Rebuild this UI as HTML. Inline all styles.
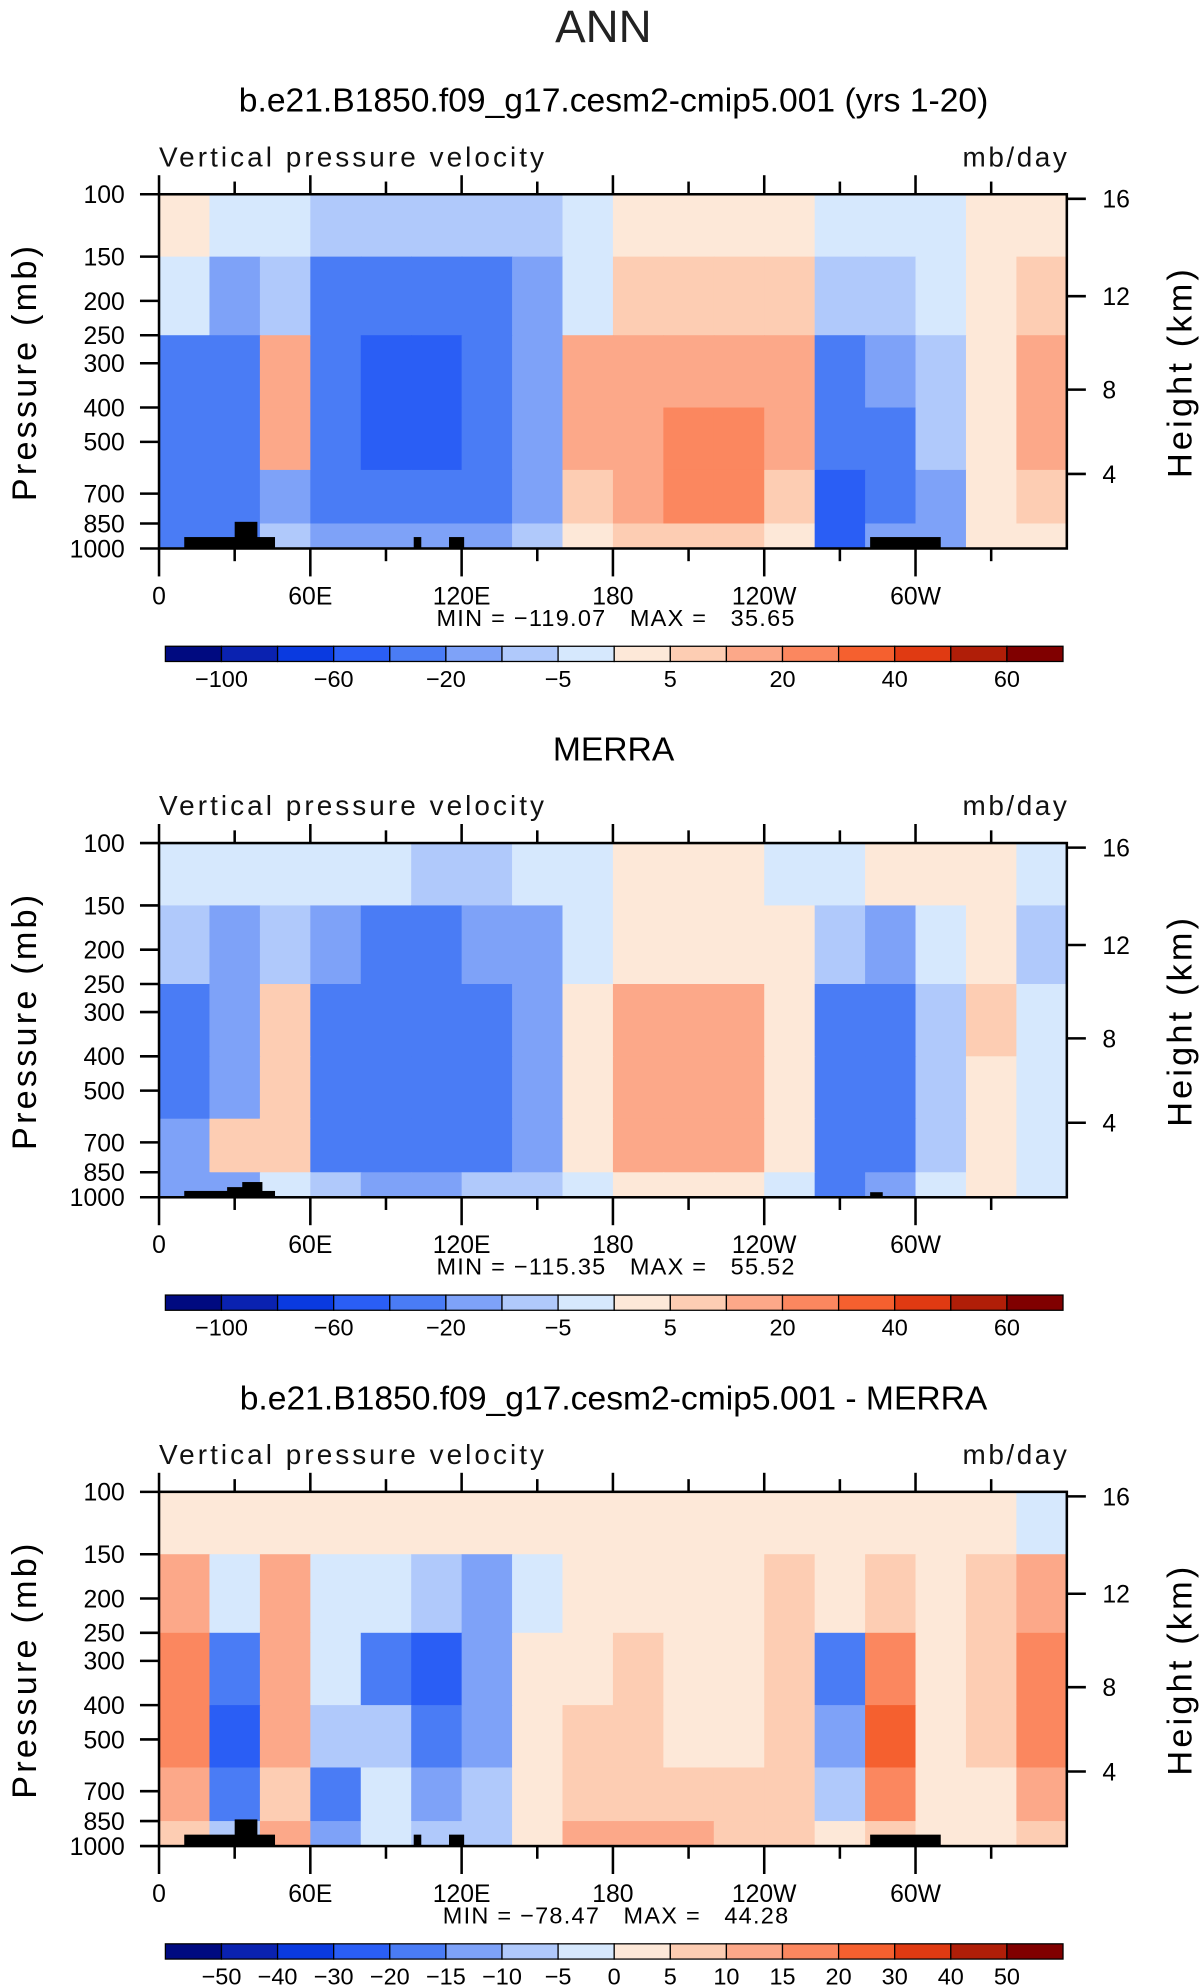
<!DOCTYPE html>
<html><head><meta charset="utf-8">
<style>
html,body{margin:0;padding:0;background:#fff;}
svg{display:block;font-family:"Liberation Sans",sans-serif;}
</style></head>
<body>
<svg id="fig" width="1203" height="1987" viewBox="0 0 947 1565" xmlns="http://www.w3.org/2000/svg">
<text x="475" y="33" font-size="36" font-weight="300" text-anchor="middle" fill="#222">ANN</text>
</svg>
<script>
// ===== data =====
const lonEdges = [0,20,40,60,80,100,120,140,160,180,200,220,240,260,280,300,320,340,360];
const presEdges = [100,150,250,400,600,850,1000];
const levelsAbs = [-100,-80,-60,-40,-20,-10,-5,0,5,10,20,30,40,50,60];
const levelsDiff = [-50,-40,-30,-20,-15,-10,-5,0,5,10,15,20,30,40,50];
const labelsAbs = ["-100","-60","-20","-5","5","20","40","60"];
const labelsAbsIdx = [0,2,4,6,8,10,12,14];
const labelsDiff = ["-50","-40","-30","-20","-15","-10","-5","0","5","10","15","20","30","40","50"];
const pTicks = [100,150,200,250,300,400,500,700,850,1000];
const hTicks = [4,8,12,16];
const hTickP = [616,356,194,103];
const xTickLabels = ["0","60E","120E","180","120W","60W"];
const xTickLons = [0,60,120,180,240,300];

const model = [
 [3,-3,-3,-8,-8,-8,-8,-8,-3,3,3,3,3,-3,-3,-3,3,3],
 [-3,-15,-8,-25,-30,-30,-30,-15,-3,8,8,8,8,-8,-8,-3,3,8],
 [-25,-35,12,-30,-50,-50,-40,-15,12,15,15,15,15,-40,-20,-8,3,15],
 [-30,-35,15,-30,-45,-50,-40,-15,12,15,25,25,15,-40,-25,-8,3,15],
 [-30,-40,-15,-25,-30,-40,-30,-15,8,15,25,25,8,-50,-30,-12,3,8],
 [-25,-40,-8,-15,-20,-20,-15,-8,3,8,8,8,3,-50,-20,-12,3,3]];
const merra = [
 [-3,-3,-3,-3,-3,-8,-8,-3,-3,3,3,3,-3,-3,3,3,3,-3],
 [-8,-15,-8,-15,-25,-25,-20,-15,-3,3,3,3,3,-8,-15,-3,3,-8],
 [-25,-15,5,-30,-30,-30,-30,-15,3,12,12,12,3,-30,-30,-8,8,-5],
 [-25,-15,8,-30,-30,-30,-30,-15,3,15,15,15,3,-35,-30,-8,3,-3],
 [-20,8,8,-25,-30,-30,-30,-15,3,12,12,12,3,-40,-30,-8,3,-3],
 [-20,-15,-3,-8,-15,-20,-8,-8,-3,3,3,3,-3,-35,-15,-5,3,-3]];
const diff = [
 [3,3,3,3,3,3,3,3,3,3,3,3,3,3,3,3,3,-3],
 [12,-3,12,-3,-3,-8,-15,-3,3,3,3,3,8,3,8,3,8,12],
 [15,-20,12,-3,-20,-25,-15,3,3,8,3,3,8,-20,15,3,8,15],
 [15,-25,12,-8,-10,-20,-15,3,8,8,3,3,8,-15,20,3,8,15],
 [12,-20,8,-20,-3,-12,-8,3,8,8,8,8,8,-8,15,3,3,12],
 [8,-10,12,-15,-3,-8,-8,3,12,12,12,8,8,3,8,3,3,8]];
const colors = ["#000a80","#0a22b0","#0a3ae0","#2a5ef5","#4a7cf5","#7ea2f8","#b0c9fb","#d6e8fd",
                "#fde8d8","#fdcdb3","#fca889","#fb875f","#f5602f","#e03a12","#b01e08","#800000"];
const panels = [
 {title:"b.e21.B1850.f09_g17.cesm2-cmip5.001 (yrs 1-20)", data:model, lev:levelsAbs, minmax:"MIN = \u2212119.07   MAX =   35.65", terr:"full", diff:false},
 {title:"MERRA", data:merra, lev:levelsAbs, minmax:"MIN = \u2212115.35   MAX =   55.52", terr:"small", diff:false},
 {title:"b.e21.B1850.f09_g17.cesm2-cmip5.001 - MERRA", data:diff, lev:levelsDiff, minmax:"MIN = \u221278.47   MAX =   44.28", terr:"full", diff:true}];
// ===== drawing =====
const NS="http://www.w3.org/2000/svg";
const svg=document.getElementById('fig');
const X0=125,X1=840,PH=279;
const xs=l=>X0+(X1-X0)*l/360;
const ys=(p,top)=>top+PH*Math.log10(p/100);
function mk(tag,attrs,parent){const e=document.createElementNS(NS,tag);for(const k in attrs)e.setAttribute(k,attrs[k]);(parent||svg).appendChild(e);return e;}
function bin(v,lev){let i=0;while(i<lev.length&&v>=lev[i])i++;return i;}
const terrFull=[[10,36,423],[30,39,411],[36,46,423],[101,104,423],[115,121,423],[282,310,423]];

panels.forEach((P,k)=>{
  const top=153+511*k;
  const g=mk('g',{});
  
  
  const t=mk('text',{x:483,y:top-65,'font-size':26.5,'text-anchor':'middle',fill:'#000'},g);
  t.textContent=P.title;
  
  
  const st=mk('text',{x:125,y:top-22,'font-size':22,fill:'#111','letter-spacing':'2.4'},g);
  st.textContent="Vertical pressure velocity";
  
  
  const un=mk('text',{x:842,y:top-22,'font-size':22,'text-anchor':'end',fill:'#111','letter-spacing':'2'},g);
  un.textContent="mb/day";
  
  
  P.data.forEach((row,r)=>{
    row.forEach((v,c)=>{
      const x=xs(lonEdges[c]),x2=xs(lonEdges[c+1]);
      const y=ys(presEdges[r],top),y2=ys(presEdges[r+1],top);
      const rc=mk('rect',{x:x,y:y,width:x2-x+0.6,height:y2-y+0.6,fill:colors[bin(v,P.lev)]},g);
      
      
    });
  });
  const terr=P.terr==="full"?terrFull.map(a=>[a[0],a[1],a[2]+511*k]):[[10,46,938],[27,39,935],[33,41,931],[282,287,939]];
  terr.forEach(a=>{
    const tr=mk('rect',{x:xs(a[0]),y:a[2],width:xs(a[1])-xs(a[0]),height:top+PH-a[2],fill:'#000'},g);
    
    
  });
  const fr=mk('rect',{x:X0,y:top,width:X1-X0,height:PH,fill:'none',stroke:'#000','stroke-width':2},g);
  
  
  pTicks.forEach(p=>{
    const y=ys(p,top);
    mk('line',{x1:110,x2:X0,y1:y,y2:y,stroke:'#000','stroke-width':2},g);
    const tl=mk('text',{x:98,y:y+7,'font-size':19.5,'text-anchor':'end'},g);
    tl.textContent=p;
    
    
  });
  const yl=mk('text',{transform:`translate(28,${top+140}) rotate(-90)`,'font-size':27,'text-anchor':'middle','letter-spacing':'2.5'},g);
  yl.textContent="Pressure (mb)";
  
  
  hTicks.forEach((h,i)=>{
    const y=ys(hTickP[i],top);
    mk('line',{x1:X1,x2:855,y1:y,y2:y,stroke:'#000','stroke-width':2},g);
    const hl=mk('text',{x:868,y:y+7,'font-size':19.5},g);
    hl.textContent=h;
    
    
  });
  const hr=mk('text',{transform:`translate(938,${top+140}) rotate(-90)`,'font-size':27,'text-anchor':'middle','letter-spacing':'2.5'},g);
  hr.textContent="Height (km)";
  
  
  for(let l=0;l<=330;l+=30){
    const x=xs(l),maj=l%60===0;
    mk('line',{x1:x,x2:x,y1:top+PH,y2:top+PH+(maj?22:10),stroke:'#000','stroke-width':2},g);
    mk('line',{x1:x,x2:x,y1:top,y2:top-(maj?15:10),stroke:'#000','stroke-width':2},g);
  }
  xTickLabels.forEach((s,i)=>{
    const xl=mk('text',{x:xs(xTickLons[i]),y:top+PH+44,'font-size':19.5,'text-anchor':'middle'},g);
    xl.textContent=s;
    
    
  });
  const mm=mk('text',{x:485,y:top+PH+61,'font-size':18.5,'text-anchor':'middle','letter-spacing':'1'},g);
  mm.setAttribute('style','white-space:pre');
  mm.textContent=P.minmax;
  
  
  const cy=top+356,bw=(837-130)/16;
  colors.forEach((c,i)=>{
    const b=mk('rect',{x:130+i*bw,y:cy,width:bw,height:12,fill:c,stroke:'#000','stroke-width':1},g);
    
    
  });
  const labs=P.diff?labelsDiff:labelsAbs;
  labs.forEach((s,i)=>{
    const idx=P.diff?i:labelsAbsIdx[i];
    const cl=mk('text',{x:130+(idx+1)*bw,y:cy+32,'font-size':18.5,'text-anchor':'middle'},g);
    cl.textContent=s.replace('-','\u2212');
    
    
  });
});
</script>
</body></html>
